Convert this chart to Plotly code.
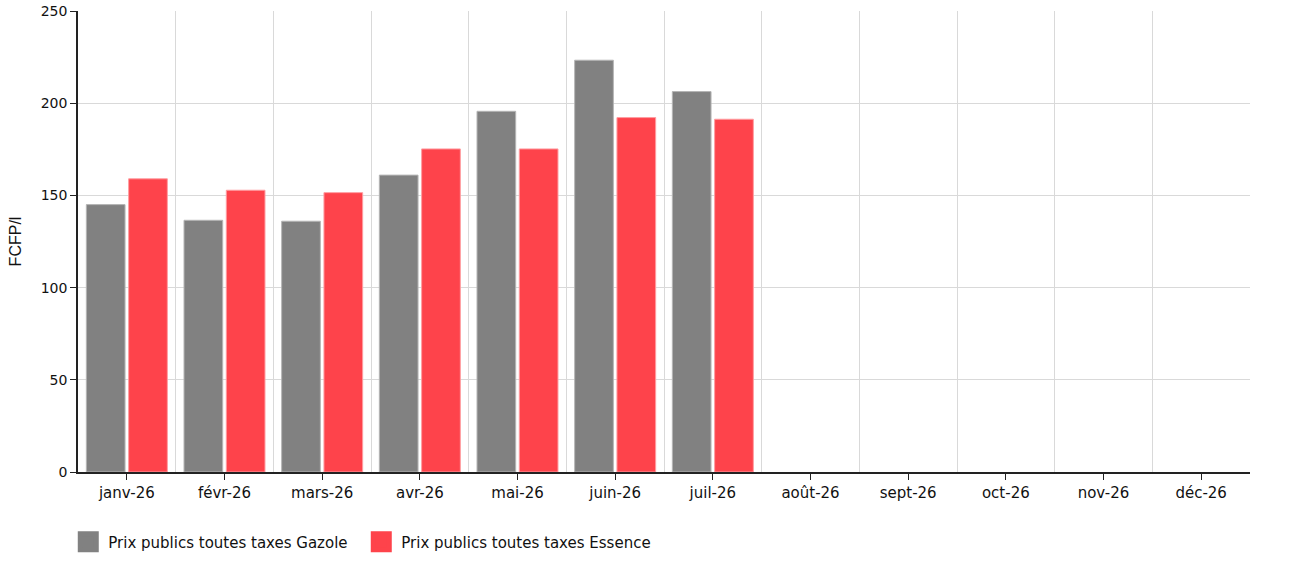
import plotly.graph_objects as go

mois = ["janv-26", "févr-26", "mars-26", "avr-26", "mai-26", "juin-26",
        "juil-26", "août-26", "sept-26", "oct-26", "nov-26", "déc-26"]
gazole = [145, 136.5, 136, 161, 195.6, 223.3, 206.3]
essence = [159, 152.8, 151.5, 175.2, 175.2, 192.2, 191.3]

nom_gazole = "Prix publics toutes taxes Gazole"
nom_essence = "Prix publics toutes taxes Essence"
col_gazole = "#818181"
col_essence = "#fe434b"

x = list(range(len(mois)))

fig = go.Figure()
fig.add_trace(go.Bar(x=x[:len(gazole)], y=gazole, name=nom_gazole,
                     marker=dict(color=col_gazole, line=dict(color="#b5b5b5", width=1)),
                     showlegend=False))
fig.add_trace(go.Bar(x=x[:len(essence)], y=essence, name=nom_essence,
                     marker=dict(color=col_essence, line=dict(color="#ff9da1", width=1)),
                     showlegend=False))

# big square legend symbols
for nom, col in [(nom_gazole, col_gazole), (nom_essence, col_essence)]:
    fig.add_trace(go.Scatter(x=[None], y=[None], mode="markers", name=nom,
                             marker=dict(symbol="square", size=16, color=col,
                                         line=dict(color=col, width=5))))

fig.update_layout(
    width=1304, height=578,
    margin=dict(l=78, r=54, t=11, b=106),
    plot_bgcolor="white", paper_bgcolor="white",
    barmode="group", bargap=0.134, bargroupgap=0.085,
    font=dict(family="DejaVu Sans", size=15, color="#111"),
    legend=dict(orientation="h", x=-0.0083, xanchor="left", y=-0.152, yanchor="middle",
                font=dict(size=15), itemwidth=30, entrywidth=248,
                traceorder="normal", tracegroupgap=0),
)
fig.update_xaxes(
    range=[-0.5, 11.5], tickmode="array", tickvals=x, ticktext=mois,
    showgrid=False, ticks="outside", ticklen=6, tickcolor="#222",
    showline=True, linecolor="#222", linewidth=1.5, automargin=False,
    tickfont=dict(size=15),
    minor=dict(tickmode="array", tickvals=[i + 0.5 for i in range(-1, 12)],
               showgrid=True, gridcolor="#d9d9d9", ticks=""),
)
fig.update_yaxes(
    range=[0, 250], dtick=50, showgrid=True, gridcolor="#d9d9d9",
    ticks="outside", ticklen=6, tickcolor="#222",
    showline=True, linecolor="#222", linewidth=1.5, automargin=False,
    zeroline=False, tickfont=dict(size=14),
    title=dict(text="FCFP/l", font=dict(family="Liberation Sans", size=16), standoff=15),
)

fig.write_html("out.html", config={"displayModeBar": False},
               post_script="document.body.style.margin='0';")
